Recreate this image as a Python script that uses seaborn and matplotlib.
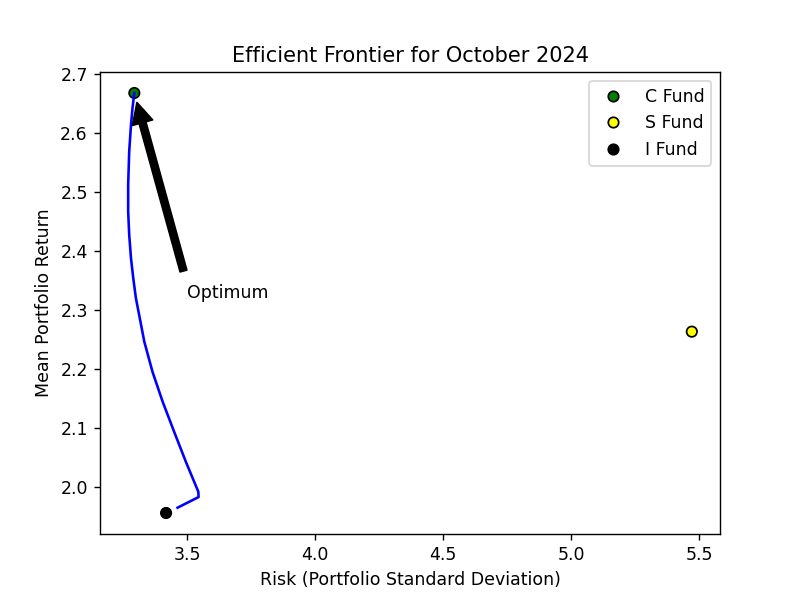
import pandas as pd
import matplotlib
matplotlib.use("Agg")
import matplotlib.pyplot as plt
import seaborn as sns

# efficient frontier curve (risk, return)
frontier_risk = [3.463, 3.545, 3.544, 3.496, 3.450, 3.405, 3.365, 3.333, 3.313,
                 3.300, 3.290, 3.281, 3.274, 3.270, 3.270, 3.274, 3.281, 3.287, 3.294]
frontier_return = [1.965, 1.983, 1.992, 2.042, 2.093, 2.144, 2.195, 2.246, 2.291,
                   2.320, 2.353, 2.387, 2.427, 2.466, 2.512, 2.568, 2.613, 2.642, 2.667]

# individual funds
fund_names = ["C Fund", "S Fund", "I Fund"]
fund_risk = [3.294, 5.472, 3.418]
fund_return = [2.667, 2.263, 1.956]
fund_colors = ["green", "yellow", "black"]

optimum = (3.294, 2.667)
optimum_label_pos = (3.5, 2.32)

df_frontier = pd.DataFrame({"Risk": frontier_risk, "Return": frontier_return})
df_funds = pd.DataFrame({"Fund": fund_names, "Risk": fund_risk, "Return": fund_return})

fig, ax = plt.subplots(figsize=(6.4, 4.8), dpi=125)

# estimator=None so repeated x values are not averaged together
sns.lineplot(data=df_frontier, x="Risk", y="Return", sort=False, estimator=None,
             color="blue", linewidth=1.5, ax=ax)

sns.scatterplot(data=df_funds, x="Risk", y="Return", hue="Fund",
                palette=dict(zip(fund_names, fund_colors)), s=36,
                edgecolor="black", linewidth=1, ax=ax)

ax.annotate("Optimum", xy=optimum, xytext=optimum_label_pos,
            arrowprops=dict(facecolor="black", shrink=0.05))

ax.legend(loc="upper right")
ax.set_title("Efficient Frontier for October 2024")
ax.set_xlabel("Risk (Portfolio Standard Deviation)")
ax.set_ylabel("Mean Portfolio Return")

plt.savefig("out.png", dpi=125)
